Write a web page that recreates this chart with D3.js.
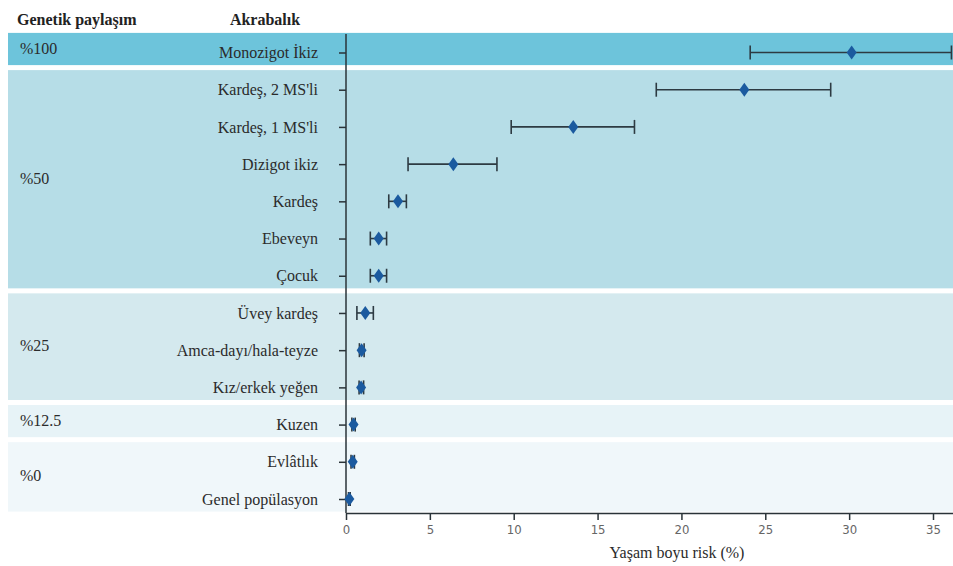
<!DOCTYPE html>
<html>
<head>
<meta charset="utf-8">
<script src="https://cdn.jsdelivr.net/npm/d3@7/dist/d3.min.js"></script>
</head>
<body style="margin:0; background:#ffffff">
<svg id="chart" width="953" height="566"></svg>
<script>
// Relationship categories, top to bottom
const relatives = [
  "Monozigot İkiz", "Kardeş, 2 MS'li", "Kardeş, 1 MS'li", "Dizigot ikiz",
  "Kardeş", "Ebeveyn", "Çocuk", "Üvey kardeş", "Amca-dayı/hala-teyze",
  "Kız/erkek yeğen", "Kuzen", "Evlâtlık", "Genel popülasyon"
];
// Lifetime risk (%) point estimates and interval bounds
const riskValues = [30.15, 23.75, 13.55, 6.4, 3.1, 1.95, 1.95, 1.15, 0.93, 0.9, 0.45, 0.4, 0.2];
const riskLower  = [24.1, 18.5, 9.85, 3.7, 2.55, 1.45, 1.45, 0.65, 0.8, 0.78, 0.35, 0.3, 0.15];
const riskUpper  = [36.1, 28.9, 17.2, 9.0, 3.6, 2.42, 2.42, 1.63, 1.08, 1.05, 0.55, 0.5, 0.25];
// Shared-genetics groups: label and index range of their relatives
const groupLabels = ["%100", "%50", "%25", "%12.5", "%0"];
const groupStart  = [0, 1, 7, 10, 11];
const groupEnd    = [0, 6, 9, 10, 12];
const groupColors = ["#6dc4db", "#b6dde7", "#d4e9ee", "#e7f3f7", "#f0f7fa"];
const xTicks = [0, 5, 10, 15, 20, 25, 30, 35];

const SERIF = "\"Liberation Serif\", serif";
const NARROW = "\"DejaVu Sans Condensed\", sans-serif";

const svg = d3.select("#chart");
const W = 953;

const x = d3.scaleLinear().domain([0, 35]).range([346, 933]);
const y = d3.scalePoint().domain(relatives).range([52.5, 499]);
const step = y.step();
const axisTop = 34, axisBottom = 513;

// Group background bands
const groups = groupLabels.map((g, i) => ({
  label: g,
  top: y(relatives[groupStart[i]]) - step / 2 - 1,
  bottom: y(relatives[groupEnd[i]]) + step / 2 - 6,
  color: groupColors[i]
}));
svg.append("g").selectAll("rect").data(groups).join("rect")
  .attr("x", 8).attr("width", W - 8)
  .attr("y", d => d.top).attr("height", d => d.bottom - d.top)
  .attr("fill", d => d.color);

svg.append("g").selectAll("text").data(groups).join("text")
  .style("font-family", SERIF, "important")
  .attr("x", 20).attr("y", d => (d.top + d.bottom) / 2 - 1)
  .attr("dy", "0.35em")
  .attr("font-size", 16).attr("fill", "#2b2b2b")
  .text(d => d.label);

// Column headers
svg.append("text").style("font-family", SERIF, "important")
  .attr("x", 17).attr("y", 19).attr("dy", "0.35em")
  .attr("font-size", 16).attr("font-weight", "bold").attr("fill", "#222")
  .text("Genetik paylaşım");
svg.append("text").style("font-family", SERIF, "important")
  .attr("x", 265).attr("y", 19).attr("dy", "0.35em")
  .attr("text-anchor", "middle")
  .attr("font-size", 16).attr("font-weight", "bold").attr("fill", "#222")
  .text("Akrabalık");

// Left axis: relative names
const yAxis = svg.append("g")
  .attr("transform", `translate(${x(0)},0)`)
  .call(d3.axisLeft(y).tickSize(7).tickPadding(21).tickSizeOuter(0));
yAxis.attr("font-family", null).attr("font-size", null);
yAxis.select(".domain").remove();
yAxis.selectAll(".tick line").attr("stroke", "#2a3338").attr("stroke-width", 1.5);
yAxis.selectAll(".tick text")
  .style("font-family", SERIF, "important")
  .attr("font-size", 16).attr("fill", "#2b2b2b");
svg.append("line")
  .attr("x1", x(0)).attr("x2", x(0))
  .attr("y1", axisTop).attr("y2", axisBottom)
  .attr("stroke", "#2a3338").attr("stroke-width", 1.5);

// Bottom axis
const xAxisScale = x.copy().domain([0, x.invert(W)]).range([x(0), W]);
const xAxis = svg.append("g")
  .attr("transform", `translate(0,${axisBottom})`)
  .call(d3.axisBottom(xAxisScale).tickValues(xTicks).tickSize(7).tickPadding(5).tickSizeOuter(0));
xAxis.attr("font-family", null).attr("font-size", null);
xAxis.select(".domain").attr("stroke", "#2a3338").attr("stroke-width", 1.5);
xAxis.selectAll(".tick line").attr("stroke", "#2a3338").attr("stroke-width", 1.5);
xAxis.selectAll(".tick text")
  .style("font-family", NARROW, "important")
  .attr("font-size", 13).attr("fill", "#666");

svg.append("text").style("font-family", SERIF, "important")
  .attr("x", 677).attr("y", 552).attr("dy", "0.35em")
  .attr("text-anchor", "middle")
  .attr("font-size", 16).attr("fill", "#2b2b2b")
  .text("Yaşam boyu risk (%)");

// Interval bars with end caps, then diamond markers
const rows = relatives.map((r, i) => ({ r, v: riskValues[i], lo: riskLower[i], hi: riskUpper[i] }));
const bars = svg.append("g").attr("stroke", "#2d3a42").attr("stroke-width", 1.6).attr("fill", "none");
bars.selectAll("line.span").data(rows).join("line").attr("class", "span")
  .attr("x1", d => x(d.lo)).attr("x2", d => x(d.hi))
  .attr("y1", d => y(d.r)).attr("y2", d => y(d.r));
bars.selectAll("line.lo").data(rows).join("line").attr("class", "lo")
  .attr("x1", d => x(d.lo)).attr("x2", d => x(d.lo))
  .attr("y1", d => y(d.r) - 7).attr("y2", d => y(d.r) + 7);
bars.selectAll("line.hi").data(rows).join("line").attr("class", "hi")
  .attr("x1", d => x(d.hi)).attr("x2", d => x(d.hi))
  .attr("y1", d => y(d.r) - 7).attr("y2", d => y(d.r) + 7);

svg.append("g").selectAll("path").data(rows).join("path")
  .attr("d", "M0,-7L5,0L0,7L-5,0Z")
  .attr("transform", d => `translate(${x(d.v)},${y(d.r)})`)
  .attr("fill", "#1b5a9f");
</script>
</body>
</html>
